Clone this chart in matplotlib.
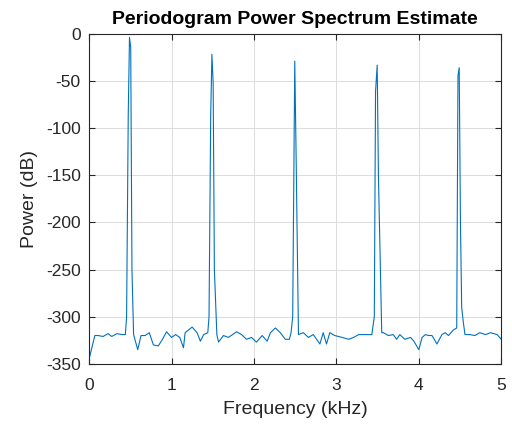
import matplotlib
matplotlib.use("Agg")
import matplotlib.pyplot as plt

plt.rcParams["font.family"] = ["Liberation Sans", "DejaVu Sans"]
plt.rcParams["axes.unicode_minus"] = False

# periodogram (frequency in kHz, power in dB)
freq = [0.0, 0.07, 0.11, 0.17, 0.23, 0.275, 0.336, 0.40, 0.44, 0.455, 0.475,
        0.49, 0.505, 0.52, 0.54, 0.59, 0.63, 0.68, 0.73, 0.78, 0.84, 0.89,
        0.94, 1.0, 1.05, 1.10, 1.145, 1.165, 1.25, 1.31, 1.35, 1.39, 1.44,
        1.455, 1.475, 1.49, 1.505, 1.52, 1.55, 1.57, 1.63, 1.69, 1.79, 1.85,
        1.91, 1.97, 2.03, 2.10, 2.16, 2.20, 2.26, 2.32, 2.38, 2.43, 2.45,
        2.47, 2.495, 2.51, 2.54, 2.60, 2.66, 2.72, 2.76, 2.80, 2.84, 2.88,
        2.92, 2.98, 3.07, 3.15, 3.21, 3.27, 3.35, 3.43, 3.46, 3.475, 3.495,
        3.51, 3.55, 3.57, 3.63, 3.69, 3.73, 3.77, 3.83, 3.90, 3.94, 4.0,
        4.04, 4.08, 4.12, 4.16, 4.22, 4.28, 4.32, 4.36, 4.42, 4.46, 4.475,
        4.49, 4.505, 4.52, 4.54, 4.56, 4.62, 4.68, 4.74, 4.81, 4.87, 4.95,
        5.0]
power = [-345, -320, -320, -321, -318, -321, -318, -319, -319, -300, -86,
         -3.5, -14.5, -250, -319, -335, -320, -320, -317, -330, -331, -324,
         -316, -322, -319, -322, -333, -317, -311, -317, -326, -319, -317,
         -300, -88, -21.6, -52, -250, -319, -327, -320, -322, -316, -319,
         -324, -322, -327, -320, -326, -317, -312, -317, -324, -324, -317,
         -300, -28.7, -120, -319, -317, -322, -319, -324, -329, -317, -329,
         -317, -320, -322, -324, -322, -319, -319, -319, -300, -61, -33,
         -150, -317, -317, -320, -319, -324, -319, -324, -322, -326, -335,
         -322, -319, -320, -320, -329, -319, -317, -320, -314, -312, -44,
         -35.8, -200, -290, -306, -319, -319, -320, -317, -319, -317, -319,
         -324]

fig = plt.figure(figsize=(5.12, 4.25), dpi=100)
ax = fig.add_axes([0.174, 0.144, 0.805, 0.776])

ax.plot(freq, power, color="#0072BD", lw=0.8)

ax.set_xlim(0, 5)
ax.set_ylim(-350, 0)
ax.set_xticks([0, 1, 2, 3, 4, 5])
ax.set_yticks(range(-350, 1, 50))
ax.grid(True, color="#dcdcdc", lw=0.7)
ax.set_axisbelow(True)
ax.tick_params(direction="in", top=True, right=True, length=4,
               labelsize=12.5, colors="#262626")
ax.tick_params(axis="x", pad=10)
ax.tick_params(axis="y", pad=6)
for s in ax.spines.values():
    s.set_color("#262626")
    s.set_linewidth(0.8)

ax.set_xlabel("Frequency (kHz)", fontsize=14, color="#262626", labelpad=6)
ax.set_ylabel("Power (dB)", fontsize=14, color="#262626", labelpad=6)
ax.set_title("Periodogram Power Spectrum Estimate", fontsize=14,
             fontweight="bold", color="black", pad=7)

fig.savefig("out.png", dpi=100)
